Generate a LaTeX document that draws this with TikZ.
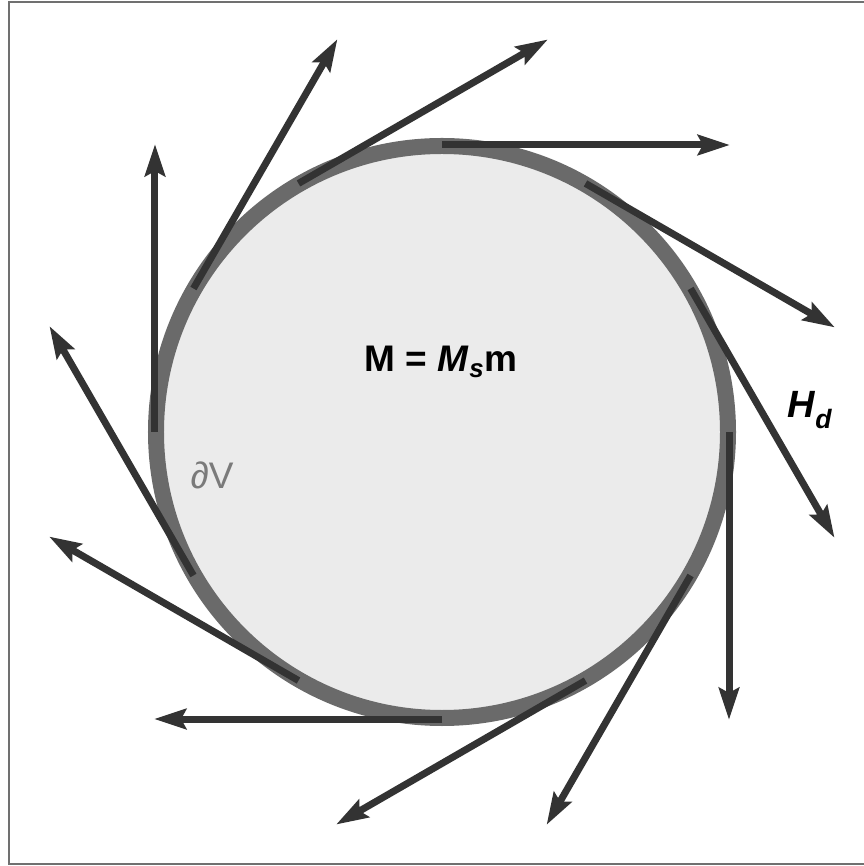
\documentclass[tikz,border=0pt]{standalone}
\usepackage{fontspec}
\setmainfont{Liberation Sans}
\usetikzlibrary{arrows.meta,calc}
\definecolor{arrowc}{HTML}{333333}
\definecolor{ringc}{HTML}{6A6A6A}
\definecolor{fillc}{HTML}{EBEBEB}
\definecolor{framec}{HTML}{707070}
\definecolor{labc}{HTML}{7A7A7A}
\begin{document}
\begin{tikzpicture}[x=1pt,y=1pt,
  fieldarrow/.style={draw=arrowc,line width=7pt,-{Stealth[length=32pt,width=20pt,inset=5pt]}},
  ring/.style={draw=ringc,line width=16pt,fill=fillc},
  biglabel/.style={font=\fontsize{37}{40}\selectfont\bfseries,text=black,inner sep=0pt}]
\useasboundingbox (-442,-434) rectangle (421,432);
\fill[white] (-442,-434) rectangle (421,432);
\draw[framec,line width=1.5pt] (425,430) -- (-433,430) -- (-433,-432) -- (425,-432);
\coordinate (c) at (0,0);
\draw[ring] (c) circle (286);
\foreach \a in {90,60,...,-240}{
  \coordinate (s\a) at (\a:287);
  \coordinate (e\a) at ($(s\a)+(\a-90:288)$);
  \draw[fieldarrow] (s\a) -- (e\a);
}
\node[biglabel] (mag) at (-1,70) {M = \textit{M}\textsubscript{\textit{s}}m};
\node[biglabel,font=\fontsize{38}{40}\selectfont\bfseries\itshape] (hd) at (368,22) {H\textsubscript{d}};
\node[font=\fontsize{37}{40}\selectfont,text=labc,inner sep=0pt] (dv) at (-230,-43) {∂V};
\end{tikzpicture}
\end{document}
